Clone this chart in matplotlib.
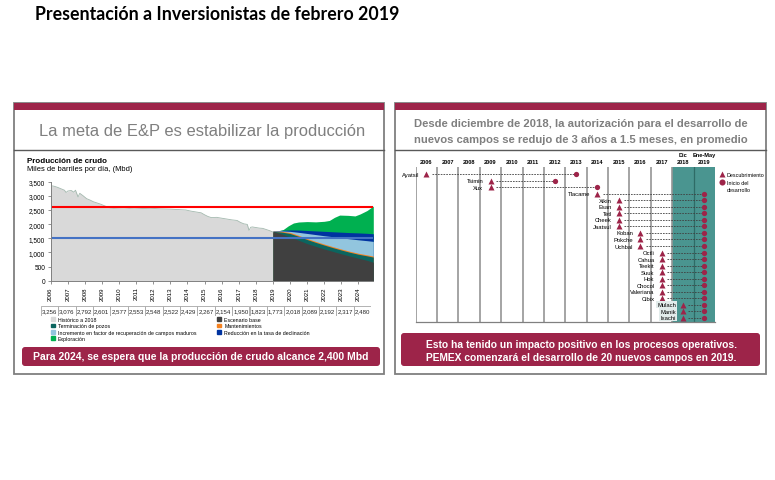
"""
plot.py — Presentación a Inversionistas (feb 2019): producción de crudo y nuevos campos
"""
import matplotlib
matplotlib.use('Agg')
import matplotlib.pyplot as plt
from matplotlib.patches import Rectangle, FancyBboxPatch, Patch
from matplotlib.ticker import FuncFormatter

plt.rcParams['font.family'] = ['Liberation Sans', 'DejaVu Sans']

W, H   = 775, 481
GUINDA = '#9D2449'
GRIS   = '#7F7F7F'

# ── Producción histórica (Mbd) ──
hist_year = [2006.0, 2006.2, 2006.4, 2006.6, 2006.8, 2006.9, 2007.0, 2007.2, 2007.35, 2007.45,
             2007.6, 2007.7, 2007.9, 2008.1, 2008.3, 2008.5, 2008.7, 2008.9, 2009.1, 2009.3,
             2009.5, 2009.7, 2010.0, 2010.3, 2010.6, 2010.9, 2011.2, 2011.5, 2011.8, 2012.1,
             2012.4, 2012.7, 2013.0, 2013.3, 2013.6, 2013.9, 2014.2, 2014.5, 2014.8, 2015.0,
             2015.2, 2015.4, 2015.7, 2016.0, 2016.3, 2016.6, 2016.9, 2017.1, 2017.3, 2017.5,
             2017.6, 2017.7, 2017.8, 2018.0, 2018.2, 2018.4, 2018.6, 2018.8, 2019.0]
hist_mbd  = [3360, 3340, 3300, 3250, 3200, 3120, 3170, 3190, 3130, 3200,
             2960, 3090, 3000, 2900, 2850, 2790, 2750, 2710, 2660, 2610,
             2570, 2560, 2570, 2580, 2560, 2570, 2560, 2550, 2545, 2550,
             2540, 2535, 2530, 2520, 2510, 2500, 2460, 2430, 2400, 2330,
             2270, 2230, 2240, 2210, 2180, 2150, 2130, 2060, 2010, 1990,
             1780, 1890, 1900, 1880, 1860, 1850, 1810, 1770, 1720]

# ── Escenarios 2019-2024 (techo acumulado de cada capa, Mbd) ──
proj_year         = [2019.0, 2019.5, 2020.0, 2020.5, 2021.0, 2021.5, 2022.0,
                     2022.5, 2023.0, 2023.5, 2024.0, 2024.5, 2024.87]
base_top          = [1745, 1650, 1545, 1430, 1310, 1215, 1120, 1035, 950, 870, 795, 720, 650]
terminacion_top   = [1745, 1720, 1670, 1570, 1455, 1355, 1260, 1170, 1085, 1005, 935, 880, 835]
mantenimiento_top = [1750, 1745, 1705, 1605, 1490, 1390, 1295, 1205, 1120, 1040, 970, 915, 870]
recuperacion_top  = [1755, 1760, 1745, 1710, 1670, 1630, 1590, 1555, 1515, 1480, 1445, 1415, 1390]
declinacion_top   = [1760, 1780, 1795, 1790, 1775, 1760, 1745, 1730, 1715, 1700, 1690, 1675, 1660]
explor_year       = [2019.0, 2019.3, 2019.6, 2019.9, 2020.2, 2020.5, 2021.0, 2021.5, 2022.0,
                     2022.3, 2022.6, 2022.9, 2023.4, 2023.8, 2024.1, 2024.5, 2024.87]
explor_top        = [1745, 1760, 1810, 1940, 2040, 2075, 2090, 2080, 2100,
                     2130, 2240, 2320, 2310, 2290, 2360, 2480, 2640]

meta_mbd, piso_mbd = 2600, 1500
years      = list(range(2006, 2025))
table_vals = ['3,256', '3,076', '2,792', '2,601', '2,577', '2,553', '2,548', '2,522', '2,429', '2,267',
              '2,154', '1,950', '1,823', '1,773', '2,018', '2,089', '2,192', '2,317', '2,480']

# ── Nuevos campos: columna de descubrimiento e inicio de desarrollo ──
col_top    = [''] * 12 + ['Dic', 'Ene-May']
col_bottom = ['2006', '2007', '2008', '2009', '2010', '2011', '2012', '2013', '2014',
              '2015', '2016', '2017', '2018', '2019']
campos     = ['Ayatsil', 'Tsimin', 'Xux', 'Tlacame', 'Xikin', 'Esan', 'Tetl', 'Cheek', 'Jaatsul',
              'Koban', 'Pokche', 'Uchbal', 'Octli', 'Cahua', 'Teekit', 'Suuk', 'Hok', 'Chocol',
              'Valeriana', 'Cibix', 'Mulach', 'Manik', 'Ixachi']
descub_col = [0, 3, 3, 8, 9, 9, 9, 9, 9, 10, 10, 10, 11, 11, 11, 11, 11, 11, 11, 11, 12, 12, 12]
inicio_col = [7, 6, 8] + [13] * 20


def px_rect(x0, y0, x1, y1):
    return [x0 / W, 1 - y1 / H, (x1 - x0) / W, (y1 - y0) / H]


fig = plt.figure(figsize=(W / 100, H / 100), dpi=100)
ov = fig.add_axes([0, 0, 1, 1])
ov.set_xlim(0, W); ov.set_ylim(H, 0); ov.axis('off')

ov.text(35, 14, 'Presentación a Inversionistas de febrero 2019', family=['Lato', 'DejaVu Sans'],
        fontsize=12.8, fontweight='bold', va='center', ha='left')

# ── marcos de las dos láminas ──
for x0, x1 in [(14, 384), (395, 766)]:
    ov.add_patch(Rectangle((x0, 104), x1 - x0, 271, facecolor='white', edgecolor=GRIS, lw=1.3))
    ov.add_patch(Rectangle((x0, 104), x1 - x0, 7, facecolor=GUINDA, edgecolor='none'))
    ov.plot([x0, x1], [151, 151], color='#595959', lw=1.0)

ov.text(202, 132, 'La meta de E&P es estabilizar la producción', color=GRIS,
        fontsize=11.9, ha='center', va='center')
ov.text(581, 124, 'Desde diciembre de 2018, la autorización para el desarrollo de', color=GRIS,
        fontsize=8.1, fontweight='bold', ha='center', va='center')
ov.text(581, 140, 'nuevos campos se redujo de 3 años a 1.5 meses, en promedio', color=GRIS,
        fontsize=8.1, fontweight='bold', ha='center', va='center')

ov.add_patch(FancyBboxPatch((22, 348), 358, 19, boxstyle='round,pad=0,rounding_size=3',
                            facecolor=GUINDA, edgecolor='none'))
ov.text(201, 357.5, 'Para 2024, se espera que la producción de crudo alcance 2,400 Mbd',
        color='white', fontsize=7.45, fontweight='bold', ha='center', va='center')
ov.add_patch(FancyBboxPatch((401, 334), 359, 33, boxstyle='round,pad=0,rounding_size=3',
                            facecolor=GUINDA, edgecolor='none'))
ov.text(581, 345, 'Esto ha tenido un impacto positivo en los procesos operativos.',
        color='white', fontsize=7.4, fontweight='bold', ha='center', va='center')
ov.text(581, 358, 'PEMEX comenzará el desarrollo de 20 nuevos campos en 2019.',
        color='white', fontsize=7.4, fontweight='bold', ha='center', va='center')

ov.text(27, 161.5, 'Producción de crudo', fontsize=5.8, fontweight='bold', va='center')
ov.text(27, 170, 'Miles de barriles por día, (Mbd)', fontsize=5.4, va='center')

# ── gráfica de producción ──
ax = fig.add_axes(px_rect(50.7, 182.7, 373.3, 281.7))
ax.set_facecolor('none')
ax.fill_between(hist_year, 0, hist_mbd, color='#D9D9D9', lw=0)
ax.plot(hist_year, hist_mbd, color='#A3B8AE', lw=0.6)
ax.fill_between(explor_year, 0, explor_top, color='#00B050', lw=0)
ax.fill_between(proj_year, 0, declinacion_top, color='#0033A0', lw=0)
ax.fill_between(proj_year, 0, recuperacion_top, color='#92C5DE', lw=0)
ax.fill_between(proj_year, 0, mantenimiento_top, color='#F58220', lw=0)
ax.fill_between(proj_year, 0, terminacion_top, color='#0B655F', lw=0)
ax.fill_between(proj_year, 0, base_top, color='#404040', lw=0)
ax.axhline(meta_mbd, color='#FF0000', lw=1.5)
ax.axhline(piso_mbd, color='#4472C4', lw=1.5)

ax.set_xlim(2006, 2024.87); ax.set_ylim(0, 3500)
ax.set_xticks(years)
ax.set_xticklabels([str(y) for y in years], rotation=90, fontsize=4.4)
ax.set_yticks(range(0, 3501, 500))
ax.yaxis.set_major_formatter(FuncFormatter(lambda v, p: f'{int(v):,}'))
ax.tick_params(axis='y', labelsize=4.7, length=2, width=0.6, color='#808080', pad=2)
ax.tick_params(axis='x', length=2, width=0.6, color='#808080', pad=2)
for s in ['top', 'right']:
    ax.spines[s].set_visible(False)
for s in ['left', 'bottom']:
    ax.spines[s].set_color('#808080'); ax.spines[s].set_linewidth(0.7)

# ── tabla de promedios anuales ──
tax = fig.add_axes(px_rect(40.7, 307.3, 371.3, 316.7))
tax.set_xlim(0, len(table_vals)); tax.set_ylim(0, 1); tax.axis('off')
for i, v in enumerate(table_vals):
    tax.add_patch(Rectangle((i, 0), 1, 1, facecolor='white', edgecolor='#A6A6A6', lw=0.6))
    tax.text(i + 0.5, 0.5, v, fontsize=4.4, ha='center', va='center', color='#262626')

handles = [Patch(color='#D9D9D9'), Patch(color='#0B655F'), Patch(color='#92C5DE'), Patch(color='#00B050'),
           Patch(color='#404040'), Patch(color='#F58220'), Patch(color='#0033A0')]
labels  = ['Histórico a 2018', 'Terminación de pozos',
           'Incremento en factor de recuperación de campos maduros', 'Exploración',
           'Escenario base', 'Mantenimientos', 'Reducción en la tasa de declinación']
fig.legend(handles, labels, loc='upper left', bbox_to_anchor=(51 / W, 1 - 318 / H), ncol=2,
           fontsize=3.8, frameon=False, handlelength=0.7, handleheight=0.7, handletextpad=0.6,
           labelspacing=0.25, columnspacing=4.0, borderpad=0, borderaxespad=0)

# ── línea de tiempo de nuevos campos ──
tl = fig.add_axes(px_rect(415.7, 168, 715, 323.3))
tl.set_facecolor('none')
tl.set_xlim(0, 14); tl.set_ylim(22.7, -1.12); tl.axis('off')
tl.axvspan(12, 14, color='#4A9590', lw=0)
for c in range(13):
    tl.axvline(c, color='#959595', lw=1.2)
tl.axvline(13, color='#2E6B66', lw=0.9)
tl.plot([0, 14], [22.7, 22.7], color='#808080', lw=0.9, clip_on=False)

for c, (top, bot) in enumerate(zip(col_top, col_bottom)):
    tl.text(c + 0.5, -1.97, bot, fontsize=4.1, fontweight='bold', ha='center', va='center', clip_on=False)
    tl.text(c + 0.5, -3.0, top, fontsize=4.1, fontweight='bold', ha='center', va='center', clip_on=False)

for r, (name, d, s) in enumerate(zip(campos, descub_col, inicio_col)):
    tl.plot([d + 0.75, s + 0.5], [r, r], color='#404040', lw=0.6, ls=(0, (2, 1.3)), clip_on=False)
    tl.plot(d + 0.5, r, marker='^', ms=4.2, color=GUINDA, mec='none', clip_on=False)
    tl.plot(s + 0.5, r, marker='o', ms=3.8, color=GUINDA, mec='none', clip_on=False)
    box = dict(facecolor='#E2ECEB', edgecolor='none', pad=0.8) if d == 12 else None
    tl.text(d + 0.17, r, name, fontsize=4.2, ha='right', va='center', bbox=box, clip_on=False)

tl.plot(14.31, 0, marker='^', ms=4.4, color=GUINDA, mec='none', clip_on=False)
tl.text(14.56, 0, 'Descubrimiento', fontsize=3.9, va='center', clip_on=False)
tl.plot(14.34, 1.23, marker='o', ms=4.4, color=GUINDA, mec='none', clip_on=False)
tl.text(14.56, 0.8, 'Inicio del\ndesarrollo', fontsize=3.9, va='top', linespacing=1.5, clip_on=False)

fig.savefig('out.png', dpi=100)
